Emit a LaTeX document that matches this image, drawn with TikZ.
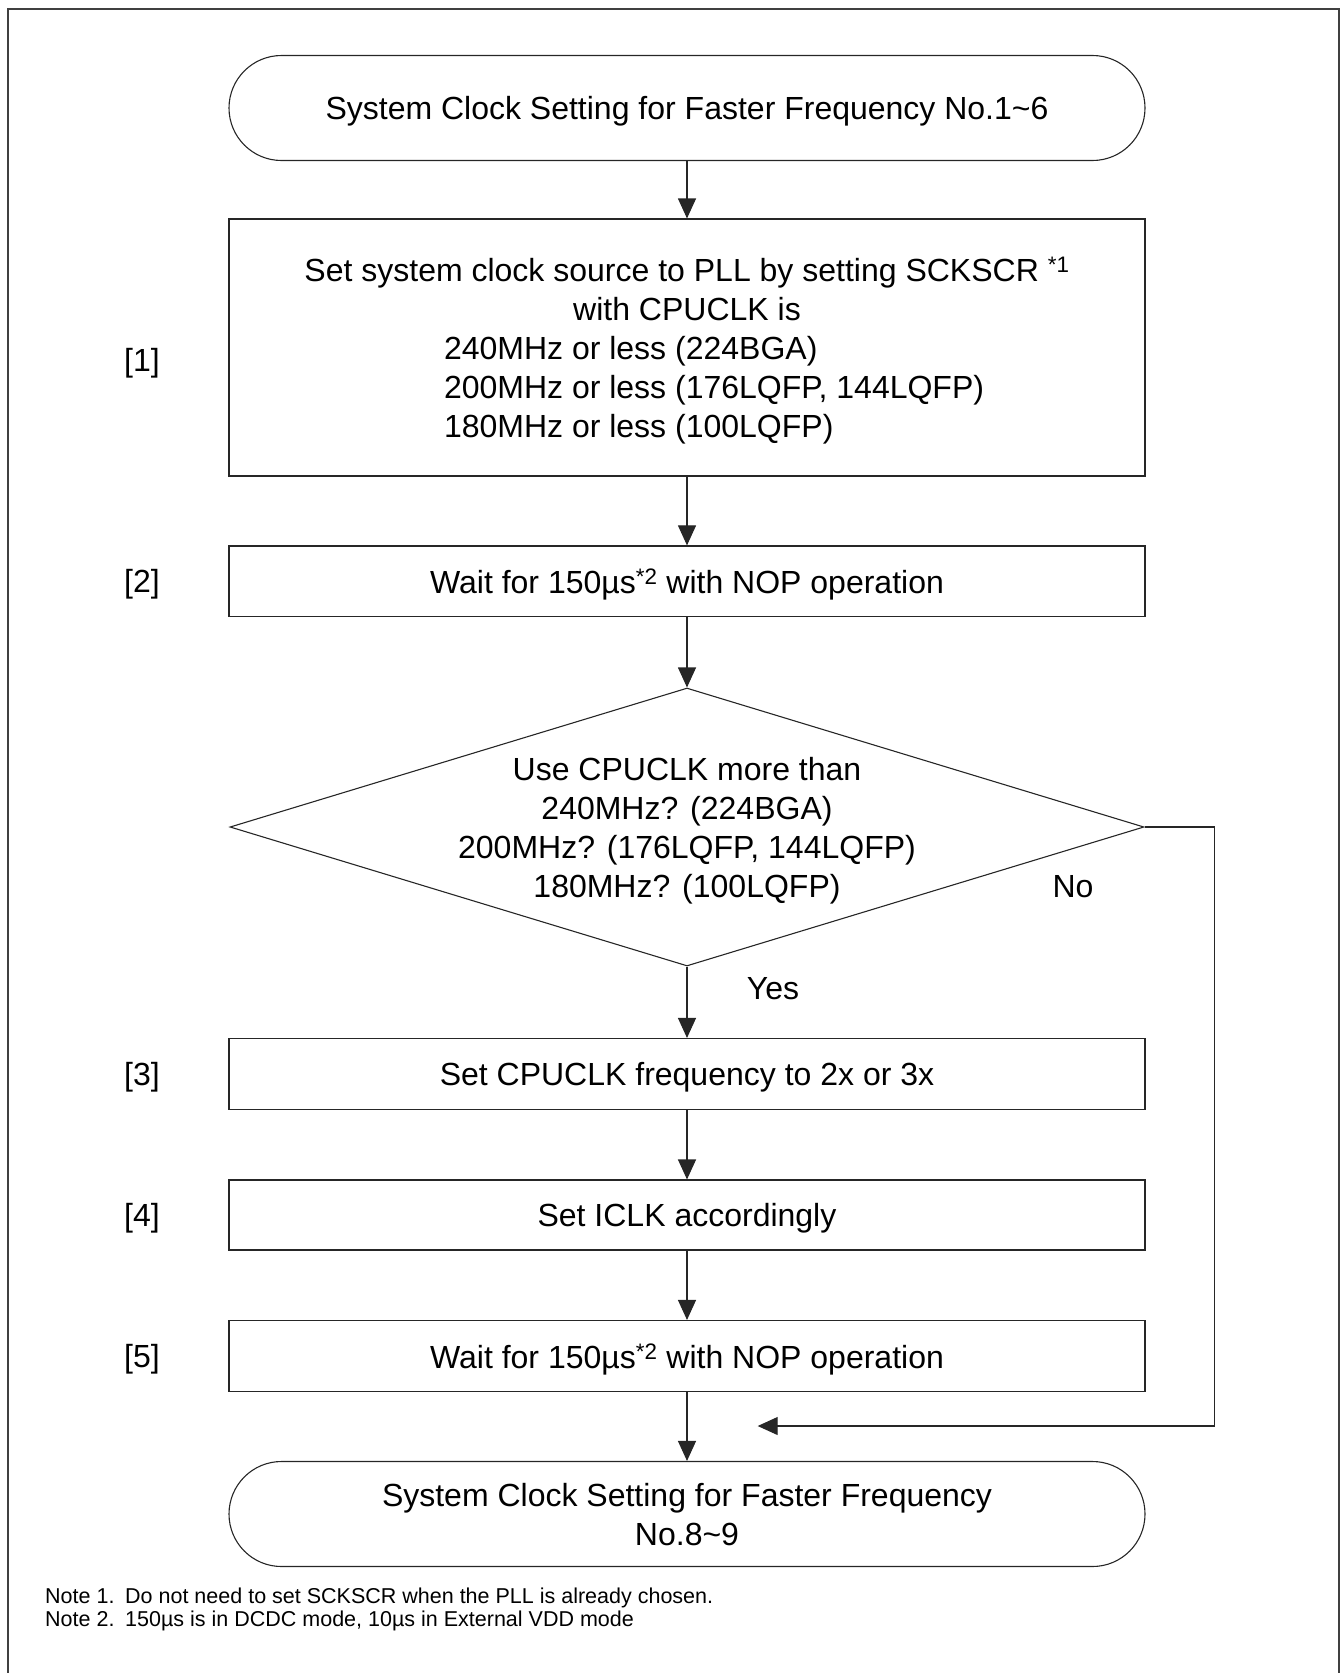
\documentclass[tikz,border=0pt]{standalone}
\usepackage{fontspec}
\setmainfont{Liberation Sans}
\usetikzlibrary{shapes.geometric,arrows.meta}
\begin{document}
\begin{tikzpicture}[x=1pt,y=-1pt,
  line/.style={line width=1.1pt,draw=black!85},
  arr/.style={line, -{Triangle[length=20pt,width=18pt]}},
  stepbox/.style={line, rectangle, minimum width=916pt, inner sep=0pt, align=center, text depth=0pt, font=\fontsize{32}{39}\selectfont},
  term/.style={stepbox, rounded corners=52.5pt, minimum height=105pt},
  lbl/.style={inner sep=0pt, text depth=0pt, font=\fontsize{32}{39}\selectfont},
  note/.style={inner sep=0pt, anchor=base west, font=\fontsize{21.5}{24}\selectfont}
]
\useasboundingbox (0,0) rectangle (1343,1673);
\draw[line width=2pt, draw=black!75] (7.5,1675) -- (7.5,8.5) -- (1339,8.5) -- (1339,1675);

\node[term] (start) at (687,108) {System Clock Setting for Faster Frequency No.1\textasciitilde6};
\node[stepbox, minimum height=257pt] (b1) at (687,347.5) {Set system clock source to PLL by setting SCKSCR \textsuperscript{*1}\\
with CPUCLK is\\
\makebox[486pt][l]{240MHz or less (224BGA)}\\
\makebox[486pt][l]{200MHz or less (176LQFP, 144LQFP)}\\
\makebox[486pt][l]{180MHz or less (100LQFP)}};
\node[stepbox, minimum height=70.5pt] (b2) at (687,581.2) {Wait for 150µs\textsuperscript{*2} with NOP operation};
\node[line, diamond, minimum width=914pt, minimum height=278pt, inner sep=0pt] (dec) at (687,827) {};
\node[lbl, align=center] (dtext) at (dec.center) {Use CPUCLK more than\\240MHz? (224BGA)\\200MHz? (176LQFP, 144LQFP)\\180MHz? (100LQFP)};
\node[stepbox, minimum height=71pt] (b3) at (687,1074) {Set CPUCLK frequency to 2x or 3x};
\node[stepbox, minimum height=70pt] (b4) at (687,1215) {Set ICLK accordingly};
\node[stepbox, minimum height=71pt] (b5) at (687,1356) {Wait for 150µs\textsuperscript{*2} with NOP operation};
\node[term] (end) at (687,1514) {System Clock Setting for Faster Frequency\\No.8\textasciitilde9};

\node[lbl] (l1) at (142,360) {[1]};
\node[lbl] (l2) at (142,581.2) {[2]};
\node[lbl] (l3) at (142,1074) {[3]};
\node[lbl] (l4) at (142,1215) {[4]};
\node[lbl] (l5) at (142,1356) {[5]};
\node[lbl] (no) at (1073,886) {No};
\node[lbl] (yes) at (773,988) {Yes};

\draw[arr] (start) -- (b1);
\draw[arr] (b1) -- (b2);
\draw[arr] (b2) -- (dec);
\draw[arr] (dec) -- (b3);
\draw[arr] (b3) -- (b4);
\draw[arr] (b4) -- (b5);
\draw[arr] (b5) -- (end);
\coordinate (rc) at (1214.5,1426);
\coordinate (ret) at (757.7,1426);
\draw[arr] (dec.east) -| (rc) -- (ret);

\node[note] (n1) at (45,1603) {\makebox[80pt][l]{Note 1.}Do not need to set SCKSCR when the PLL is already chosen.};
\node[note] (n2) at (45,1626) {\makebox[80pt][l]{Note 2.}150µs is in DCDC mode, 10µs in External VDD mode};
\end{tikzpicture}
\end{document}
